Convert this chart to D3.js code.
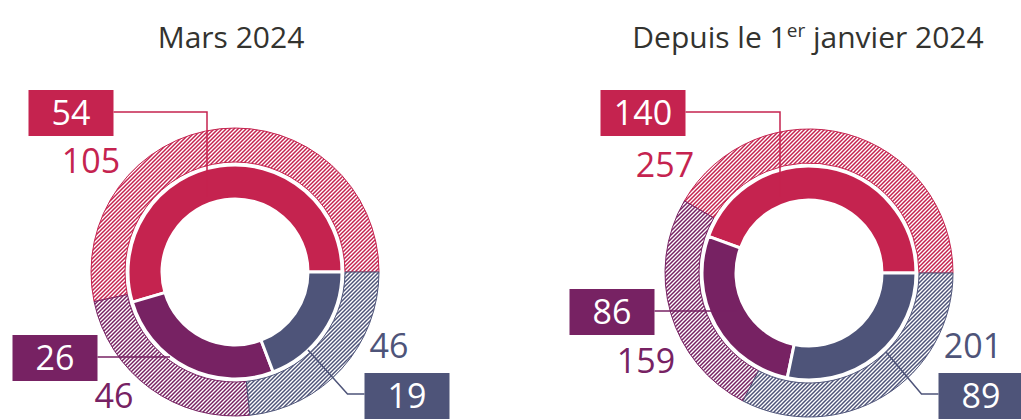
<!DOCTYPE html>
<html>
<head>
<meta charset="utf-8">
<script src="https://cdn.jsdelivr.net/npm/d3@7"></script>
<style>
  body { margin: 0; background: #fff; }
  text { font-family: "Open Sans", sans-serif; }
</style>
</head>
<body>
<svg id="chart"></svg>
<script>
// values (order: red, purple, blue)
const groups = ['rouge', 'violet', 'bleu'];
const colors = ['#c5234f', '#772263', '#4e5479'];

const titles = ['Mars 2024', 'Depuis le 1er janvier 2024'];
const innerMars = [54, 26, 19];
const outerMars = [105, 46, 46];
const innerYear = [140, 86, 89];
const outerYear = [257, 159, 201];

const width = 1021, height = 420;
const svg = d3.select('#chart').attr('width', width).attr('height', height);

// hatch patterns for the outer ring
const defs = svg.append('defs');
groups.forEach((g, i) => {
    const p = defs.append('pattern')
        .attr('id', 'hatch-' + g)
        .attr('patternUnits', 'userSpaceOnUse')
        .attr('width', 4)
        .attr('height', 4);
    p.append('rect').attr('width', 4).attr('height', 4).attr('fill', '#fff');
    p.append('path')
        .attr('d', 'M-1,1 l2,-2 M0,4 l4,-4 M3,5 l2,-2')
        .attr('stroke', colors[i])
        .attr('stroke-width', 1.5);
});

// label layout relative to each donut centre (box centre, outer label, leader end)
const layouts = [
    {
        cx: 235, cy: 272, titleX: 231,
        boxes: [[-164, -159], [-180, 86], [172, 124]],
        outerText: [[-144, -99], [-121, 136], [154, 86]],
        leaderEnd: [[-28, -75], [-65, 85], [73, 78]]
    },
    {
        cx: 809, cy: 273, titleX: 808,
        boxes: [[-166, -160], [-197, 39], [172, 123]],
        outerText: [[-144, -96], [-163, 100], [164, 85]],
        leaderEnd: [[-29, -76], [-72, 38], [77, 79]]
    }
];

const datasets = [[innerMars, outerMars], [innerYear, outerYear]];

const pie = d3.pie().sort(null)
    .startAngle(Math.PI / 2)
    .endAngle(Math.PI / 2 - 2 * Math.PI);

const innerArc = d3.arc().innerRadius(73).outerRadius(107);
const outerArc = d3.arc().innerRadius(110).outerRadius(144);

const boxW = 85, boxH = 46;

datasets.forEach(([inner, outer], k) => {
    const L = layouts[k];

    svg.append('text')
        .attr('x', L.titleX)
        .attr('y', 48)
        .attr('text-anchor', 'middle')
        .attr('font-size', 30)
        .attr('fill', '#33332f')
        .call(t => {
            if (k === 0) {
                t.text(titles[0]);
            } else {
                t.append('tspan').text('Depuis le 1');
                t.append('tspan').attr('font-size', 19).attr('dy', -11).text('er');
                t.append('tspan').attr('dy', 11).text(' janvier 2024');
            }
        });

    const g = svg.append('g').attr('transform', `translate(${L.cx},${L.cy})`);

    g.selectAll('.outer')
        .data(pie(outer))
        .join('path')
        .attr('class', 'outer')
        .attr('d', outerArc)
        .attr('fill', (d, i) => `url(#hatch-${groups[i]})`)
        .attr('stroke', (d, i) => colors[i])
        .attr('stroke-width', 1);

    g.selectAll('.inner')
        .data(pie(inner))
        .join('path')
        .attr('class', 'inner')
        .attr('d', innerArc)
        .attr('fill', (d, i) => colors[i])
        .attr('stroke', '#fff')
        .attr('stroke-width', 3);

    // outer values as plain text
    g.selectAll('.outer-label')
        .data(outer)
        .join('text')
        .attr('class', 'outer-label')
        .attr('x', (d, i) => L.outerText[i][0])
        .attr('y', (d, i) => L.outerText[i][1])
        .attr('text-anchor', 'middle')
        .attr('font-size', 34)
        .attr('fill', (d, i) => colors[i])
        .text(d => d);

    // leader lines
    g.selectAll('.leader')
        .data(inner)
        .join('path')
        .attr('class', 'leader')
        .attr('fill', 'none')
        .attr('stroke', (d, i) => colors[i])
        .attr('stroke-width', 1.5)
        .attr('d', (d, i) => {
            const [bx, by] = L.boxes[i];
            const [ex, ey] = L.leaderEnd[i];
            if (i === 0) return `M${bx + boxW / 2},${by - 1}H${ex}V${ey}`;
            if (i === 1) return `M${bx + boxW / 2},${by - 1}H${ex}`;
            const sx = bx - boxW / 2;
            return `M${sx},${by - 2}H${sx - 17}L${ex},${ey}`;
        });

    // boxed inner values
    const boxes = g.selectAll('.box')
        .data(inner)
        .join('g')
        .attr('class', 'box')
        .attr('transform', (d, i) => `translate(${L.boxes[i][0]},${L.boxes[i][1]})`);

    boxes.append('rect')
        .attr('x', -boxW / 2)
        .attr('y', -boxH / 2)
        .attr('width', boxW)
        .attr('height', boxH)
        .attr('fill', (d, i) => colors[i]);

    boxes.append('text')
        .attr('text-anchor', 'middle')
        .attr('y', 12)
        .attr('font-size', 34)
        .attr('fill', '#fff')
        .text(d => d);
});
</script>
</body>
</html>
